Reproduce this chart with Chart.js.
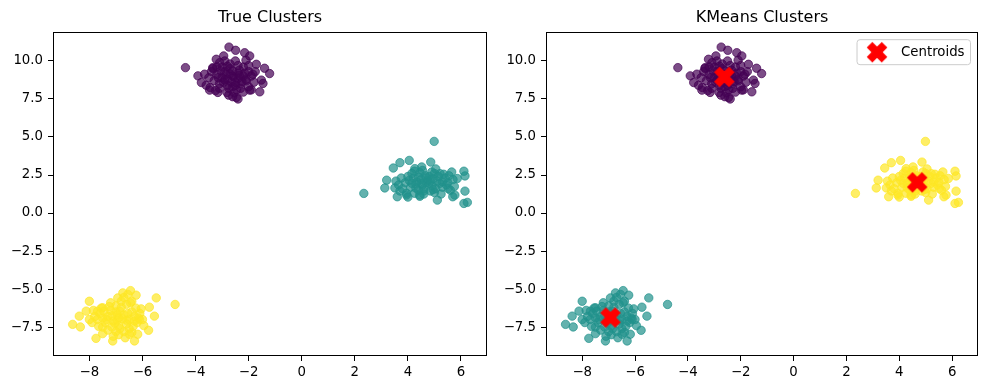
<!DOCTYPE html>
<html><head><meta charset="utf-8">
<script src="https://cdn.jsdelivr.net/npm/chart.js@4/dist/chart.umd.min.js"></script>
<style>
html,body{margin:0;padding:0;background:#fff;}
#wrap{position:relative;width:989px;height:390px;}
.box{position:absolute;top:0;height:390px;}
#b1{left:0;width:494px;} #b2{left:494px;width:495px;}
</style></head><body>
<div id="wrap"><div class="box" id="b1"><canvas id="c1" width="494" height="390"></canvas></div><div class="box" id="b2"><canvas id="c2" width="495" height="390"></canvas></div></div>
<script>
// ---- data ----
const clusterTop = [ // upper-left blob
[-4.38,9.56],[-2.74,10.91],[-2.49,10.70],[-2.94,10.33],[-3.22,10.11],[-2.15,10.54],[-1.96,10.33],[-1.40,9.52],[-1.21,9.17],[-1.52,8.74],[-1.46,8.52],[-1.58,7.97],[-1.96,8.08],[-2.46,7.60],[-2.40,7.50],[-2.82,7.93],[-3.16,7.93],[-3.47,8.08],[-3.78,8.58],[-3.91,9.02],[-3.66,9.13],[-3.35,9.56],[-3.09,9.89],[-1.71,9.78],[-1.84,9.13],[-2.09,8.69],
[-2.6,9.0],[-2.4,9.2],[-2.8,8.8],[-2.5,8.6],[-2.9,9.3],[-2.2,9.0],[-3.0,8.9],[-2.7,9.5],[-2.3,8.5],[-3.2,9.1],[-2.0,9.3],[-2.6,8.3],[-2.1,8.8],[-3.1,8.5],[-2.4,9.7],[-2.85,9.1],[-2.55,8.95],[-2.35,9.4],[-2.95,8.6],[-2.75,8.2],[-2.45,8.1],[-3.3,8.7],[-3.4,9.3],[-1.9,9.0],[-1.8,8.6],[-2.2,9.6],[-2.7,9.8],[-3.0,9.6],[-2.5,10.0],[-2.9,10.0],[-3.2,9.6],[-3.5,8.9],[-3.6,8.4],[-2.3,8.2],[-2.0,8.3],[-2.15,9.2],[-2.65,8.6],[-2.8,8.4],[-3.1,8.2],[-3.25,8.05],[-2.55,7.9],[-2.2,7.95],[-2.0,9.7],[-1.75,9.3],[-2.4,8.85],[-2.7,9.15],[-3.05,9.35],[-2.35,9.05],[-2.6,9.35],[-2.9,8.75],[-2.5,8.4],[-2.25,8.65],[-3.35,9.5],[-1.9,8.1],[-2.75,7.75],[-2.6,7.65],[-3.45,8.25],[-2.1,10.05],[-2.8,9.65],[-3.15,8.9]
];
const clusterRight = [ // right blob
[4.99,4.71],[2.34,1.29],[3.45,2.96],[3.70,3.31],[4.05,3.46],[4.86,3.35],[3.20,2.16],[3.13,1.65],[3.51,1.65],[3.60,1.07],[3.95,1.18],[4.45,1.18],[5.11,0.85],[5.65,2.70],[5.86,2.27],[6.11,2.75],[6.15,2.44],[6.15,1.44],[5.69,1.07],[5.77,1.18],[6.11,0.63],[6.24,0.70],[5.52,1.61],[5.21,2.59],[4.52,3.03],[4.26,2.92],
[4.7,2.0],[4.5,2.2],[4.9,1.8],[4.3,1.9],[5.1,2.1],[4.6,1.6],[4.8,2.4],[4.2,2.3],[5.3,1.7],[4.4,1.5],[5.0,2.6],[4.1,1.7],[5.4,2.3],[4.75,2.15],[4.55,1.85],[4.95,2.25],[4.35,2.05],[5.2,1.95],[4.65,2.45],[4.85,1.45],[3.9,2.0],[3.8,1.6],[4.0,2.4],[5.5,2.0],[5.6,1.5],[5.35,2.55],[4.45,2.65],[4.15,2.6],[3.95,1.3],[4.25,1.3],[4.6,1.25],[5.0,1.35],[5.25,1.25],[5.45,1.85],[4.05,2.15],[3.75,2.3],[4.5,1.95],[4.8,1.95],[4.7,2.3],[4.4,2.35],[5.05,1.6],[4.3,1.65],[5.15,2.4],[4.9,2.7],[4.55,2.8],[3.65,1.85],[3.7,1.45],[5.7,2.2],[5.55,2.45],[4.6,1.45],[4.85,2.1],[4.15,1.95],[5.3,2.05],[4.95,1.55],[4.25,2.75],[5.05,2.9],[4.45,1.1],[4.0,1.05],[5.75,1.75],[3.55,2.1]
];
const clusterBottom = [ // lower-left blob
[-4.77,-6.01],[-5.48,-5.58],[-5.74,-6.19],[-5.55,-6.78],[-5.77,-7.71],[-6.30,-8.41],[-7.12,-8.41],[-7.75,-8.24],[-7.50,-7.93],[-8.63,-7.32],[-8.34,-7.49],[-8.38,-6.78],[-8.12,-6.45],[-8.0,-5.80],[-6.93,-5.58],[-6.74,-5.25],[-6.45,-5.10],[-6.24,-5.40],[-6.40,-5.80],[-6.11,-6.99],[-6.18,-7.97],[-6.49,-7.97],[-7.50,-6.23],[-7.69,-6.45],
[-6.9,-6.9],[-7.1,-7.1],[-6.7,-6.7],[-7.3,-6.8],[-6.5,-7.0],[-6.9,-7.4],[-7.0,-6.5],[-6.6,-7.3],[-7.4,-7.2],[-6.3,-6.8],[-7.2,-6.4],[-6.8,-6.2],[-6.4,-6.5],[-7.5,-6.9],[-6.95,-7.05],[-6.75,-6.95],[-7.15,-6.75],[-6.55,-6.6],[-7.05,-7.25],[-6.85,-7.6],[-7.6,-6.6],[-7.7,-7.0],[-7.8,-6.8],[-7.5,-7.5],[-7.3,-7.7],[-6.7,-7.8],[-6.5,-7.6],[-6.2,-7.2],[-6.1,-6.6],[-6.0,-7.0],[-6.6,-6.0],[-6.8,-5.8],[-6.45,-5.9],[-7.0,-6.1],[-7.25,-6.15],[-7.45,-6.45],[-7.9,-7.2],[-7.65,-7.45],[-7.0,-7.8],[-6.9,-8.0],[-6.35,-7.45],[-6.25,-6.25],[-6.15,-6.9],[-6.85,-6.45],[-7.15,-7.5],[-7.35,-7.0],[-6.6,-7.05],[-6.95,-6.7],[-7.55,-6.25],[-6.4,-7.85],[-7.1,-8.1],[-6.65,-8.2],[-5.95,-7.4],[-6.05,-6.3],[-7.85,-6.4],[-7.2,-5.9],[-6.7,-5.55],[-6.55,-5.35],[-8.0,-7.0],[-6.3,-7.1]
];
const centroids = [[-2.62,8.95],[4.68,2.02],[-6.93,-6.87]];
const titles = ['True Clusters','KMeans Clusters'];
const legendLabel = 'Centroids';
const xTicks = [-8,-6,-4,-2,0,2,4,6];
const xTickLabels = ['\u22128','\u22126','\u22124','\u22122','0','2','4','6'];
const yTicks = [-7.5,-5,-2.5,0,2.5,5,7.5,10];
const yTickLabels = ['\u22127.5','\u22125.0','\u22122.5','0.0','2.5','5.0','7.5','10.0'];
const xLim = [-9.37, 6.98];
const yLim = [-9.40, 11.89];

// ---- styling ----
const PURPLE = 'rgba(68,1,84,0.7)', TEAL = 'rgba(33,145,140,0.7)', YELLOW = 'rgba(253,231,37,0.7)';
const FONT = '"DejaVu Sans", sans-serif';
const toXY = a => a.map(p => ({x:p[0], y:p[1]}));

// filled "X" marker image
function makeX(size){
  const c = document.createElement('canvas');
  const W = Math.ceil(size)+4; c.width = W; c.height = W;
  const g = c.getContext('2d');
  const pts = [[-1,-3],[-1,-1],[-3,-1],[-3,1],[-1,1],[-1,3],[1,3],[1,1],[3,1],[3,-1],[1,-1],[1,-3]];
  const r = Math.PI/4, s = size/6;
  g.beginPath();
  pts.forEach((p,i)=>{
    const x = (p[0]*Math.cos(r)-p[1]*Math.sin(r))*s + W/2;
    const y = (p[0]*Math.sin(r)+p[1]*Math.cos(r))*s + W/2;
    i?g.lineTo(x,y):g.moveTo(x,y);
  });
  g.closePath();
  g.fillStyle='#ff0000'; g.fill();
  g.strokeStyle='#ff0000'; g.lineWidth=1.2; g.stroke();
  return c;
}
const xImg = makeX(20);

const framePlugin = {
  id:'frame',
  afterDatasetsDraw(chart){
    const {ctx, chartArea:a} = chart;
    ctx.save();
    ctx.strokeStyle='#000'; ctx.lineWidth=1;
    ctx.strokeRect(Math.round(a.left)+0.5, Math.round(a.top)+0.5, Math.round(a.right-a.left)-1, Math.round(a.bottom-a.top)-1);
    ctx.restore();
  }
};
const legendPlugin = {
  id:'innerLegend',
  afterDraw(chart){
    const ds = chart.data.datasets.find(d => d.label === legendLabel);
    if(!ds) return;
    const {ctx, chartArea:a} = chart;
    ctx.save();
    ctx.font = '13.3px ' + FONT;
    const tw = ctx.measureText(ds.label).width;
    const w = 44 + tw + 6, h = 25;
    const right = a.right - 7.5, top = a.top + 7.5, left = right - w;
    ctx.beginPath();
    ctx.roundRect(left, top, w, h, 3);
    ctx.fillStyle='rgba(255,255,255,0.8)'; ctx.fill();
    ctx.strokeStyle='#cccccc'; ctx.lineWidth=1; ctx.stroke();
    ctx.drawImage(xImg, left+20-xImg.width/2, top+h/2-xImg.height/2);
    ctx.fillStyle='#000'; ctx.textBaseline='middle'; ctx.textAlign='left';
    ctx.fillText(ds.label, left+44, top+h/2+0.5);
    ctx.restore();
  }
};

function makeChart(id, datasets, title, yWidth, padRight){
  return new Chart(document.getElementById(id), {
    type:'scatter',
    data:{datasets},
    plugins:[framePlugin, legendPlugin],
    options:{
      responsive:false, animation:false, events:[],
      layout:{padding:{left:0,right:padRight,top:0,bottom:0}},
      plugins:{
        legend:{display:false}, tooltip:{enabled:false},
        title:{display:true, text:title, fullSize:false, color:'#000',
          font:{family:FONT, size:16, weight:'normal'}, padding:{top:8,bottom:5}}
      },
      scales:{
        x:{type:'linear', min:xLim[0], max:xLim[1],
          afterBuildTicks:s=>{s.ticks = xTicks.map(v=>({value:v}));},
          afterFit:s=>{s.height=34;},
          ticks:{color:'#000', font:{family:FONT,size:13.3}, padding:4, maxRotation:0, autoSkip:false,
            callback:(v,i)=>xTickLabels[xTicks.indexOf(v)]},
          grid:{display:true, drawOnChartArea:false, drawTicks:true, tickLength:5, color:'#000', lineWidth:1},
          border:{display:false}},
        y:{type:'linear', min:yLim[0], max:yLim[1],
          afterBuildTicks:s=>{s.ticks = yTicks.map(v=>({value:v}));},
          afterFit:s=>{s.width=yWidth;},
          ticks:{color:'#000', font:{family:FONT,size:13.3}, padding:5, autoSkip:false,
            callback:(v,i)=>yTickLabels[yTicks.indexOf(v)]},
          grid:{display:true, drawOnChartArea:false, drawTicks:true, tickLength:5, color:'#000', lineWidth:1},
          border:{display:false}}
      }
    }
  });
}
function pts(data, color){
  return {data:toXY(data), backgroundColor:color, borderColor:color, borderWidth:1, pointRadius:4.2, order:1};
}
makeChart('c1', [pts(clusterTop,PURPLE), pts(clusterRight,TEAL), pts(clusterBottom,YELLOW)], titles[0], 53, 7);
makeChart('c2', [
  {label:legendLabel, data:toXY(centroids), pointStyle:xImg, pointRadius:10, order:0},
  pts(clusterTop,PURPLE), pts(clusterRight,YELLOW), pts(clusterBottom,TEAL)], titles[1], 52, 8);
</script>
</body></html>
